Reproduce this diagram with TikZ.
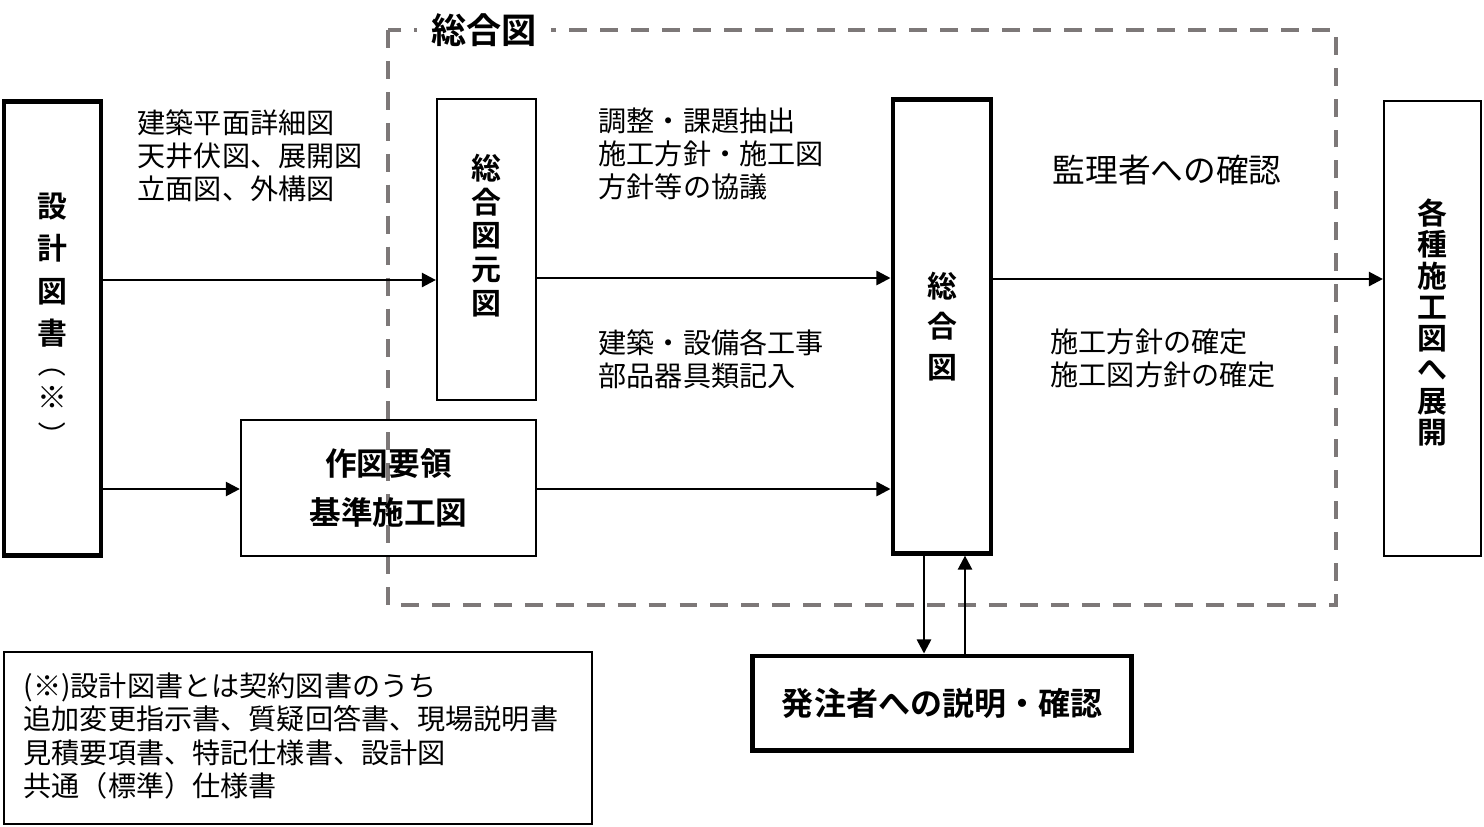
\documentclass[tikz,border=0pt]{standalone}
\usepackage{fontspec}
\setmainfont{Noto Sans CJK JP}[BoldFont={Noto Sans CJK JP Bold}]
\usepackage{tikz}
\usetikzlibrary{arrows.meta}

\definecolor{zonegray}{RGB}{125,120,120}

\tikzset{
  thinbox/.style={draw, line width=0.6pt, inner sep=0pt},
  thickbox/.style={draw, line width=1.4pt, inner sep=0pt},
  tate/.style={align=center, inner sep=0pt, font=\bfseries\fontsize{8.5}{#1}\selectfont},
  kakko/.style={inner sep=0pt, rotate=-90, font=\fontsize{8}{9}\selectfont},
  memo/.style={align=left, inner sep=0pt, anchor=west, font=\fontsize{8}{9.4}\selectfont},
  flow/.style={-{Triangle[length=4pt,width=4pt]}, line width=0.7pt},
  zone/.style={draw=zonegray, line width=1.1pt, dash pattern=on 5.1pt off 3.7pt},
}

\begin{document}
\begin{tikzpicture}[x=0.01cm, y=-0.01cm]
  \useasboundingbox (0,0) rectangle (1484,826);

  % dashed frame of the combined drawing
  \draw[zone] (388,30) rectangle (1336,605);
  \node[fill=white, inner xsep=4pt, inner ysep=1pt, font=\bfseries\fontsize{10}{12}\selectfont] (zonetitle) at (484,30) {総合図};

  % boxes
  \node[thickbox, minimum width=0.97cm, minimum height=4.53cm] (sekkei) at (52.5,328.5) {};
  \node[tate=12pt] (sekkei-t) at (52.5,270) {設\\計\\図\\書};
  \node[kakko] (kakko-l) at (52.5,364) {（};
  \node[tate=10pt] (kome) at (52.5,397) {※};
  \node[kakko] (kakko-r) at (52.5,436) {）};
  \node[thinbox, minimum width=0.99cm, minimum height=3.01cm] (motozu) at (486.5,249.5) {};
  \node[tate=9.6pt] (motozu-t) at ([yshift=0.14cm]motozu.center) {総\\合\\図\\元\\図};
  \node[thinbox, minimum width=2.95cm, minimum height=1.36cm, align=center,
        font=\bfseries\fontsize{9}{14}\selectfont] (sakuzu) at (388.5,488) {作図要領\\基準施工図};
  \node[thickbox, minimum width=0.98cm, minimum height=4.53cm, tate=11.4pt] (sogo) at (942,326.5) {総\\合\\図};
  \node[thinbox, minimum width=0.97cm, minimum height=4.55cm] (kakushu) at (1432.5,328.5) {};
  \node[tate=8.9pt] (kakushu-t) at ([yshift=0.06cm]kakushu.center) {各\\種\\施\\工\\図\\へ\\展\\開};
  \node[thickbox, minimum width=3.78cm, minimum height=0.94cm,
        font=\bfseries\fontsize{9.1}{11}\selectfont] (hatchu) at (942,703) {発注者への説明・確認};
  \node[thinbox, minimum width=5.88cm, minimum height=1.72cm] (note) at (298,738) {};

  % texts beside the arrows
  \node[memo] (zumen) at (137,156) {建築平面詳細図\\天井伏図、展開図\\立面図、外構図};
  \node[memo] (kyogi) at (598,154) {調整・課題抽出\\施工方針・施工図\\方針等の協議};
  \node[memo] (kinyu) at (598,359) {建築・設備各工事\\部品器具類記入};
  \node[memo, font=\fontsize{9.3}{11}\selectfont] (kanri) at (1052,170) {監理者への確認};
  \node[memo] (kakutei) at (1050,358) {施工方針の確定\\施工図方針の確定};
  \node[memo] (note-t) at (23,736) {(※)設計図書とは契約図書のうち\\追加変更指示書、質疑回答書、現場説明書\\見積要項書、特記仕様書、設計図\\共通（標準）仕様書};

  % arrows
  \draw[flow] (sekkei.east |- 0,280) -- (motozu.west |- 0,280);
  \draw[flow] (sekkei.east |- 0,489) -- (sakuzu.west |- 0,489);
  \draw[flow] (motozu.east |- 0,278) -- (sogo.west |- 0,278);
  \draw[flow] (sakuzu.east |- 0,489) -- (sogo.west |- 0,489);
  \draw[flow] (sogo.east |- 0,279) -- (kakushu.west |- 0,279);
  \draw[flow] (sogo.south -| 924,0) -- (hatchu.north -| 924,0);
  \draw[flow] (hatchu.north -| 965,0) -- (sogo.south -| 965,0);
\end{tikzpicture}
\end{document}
